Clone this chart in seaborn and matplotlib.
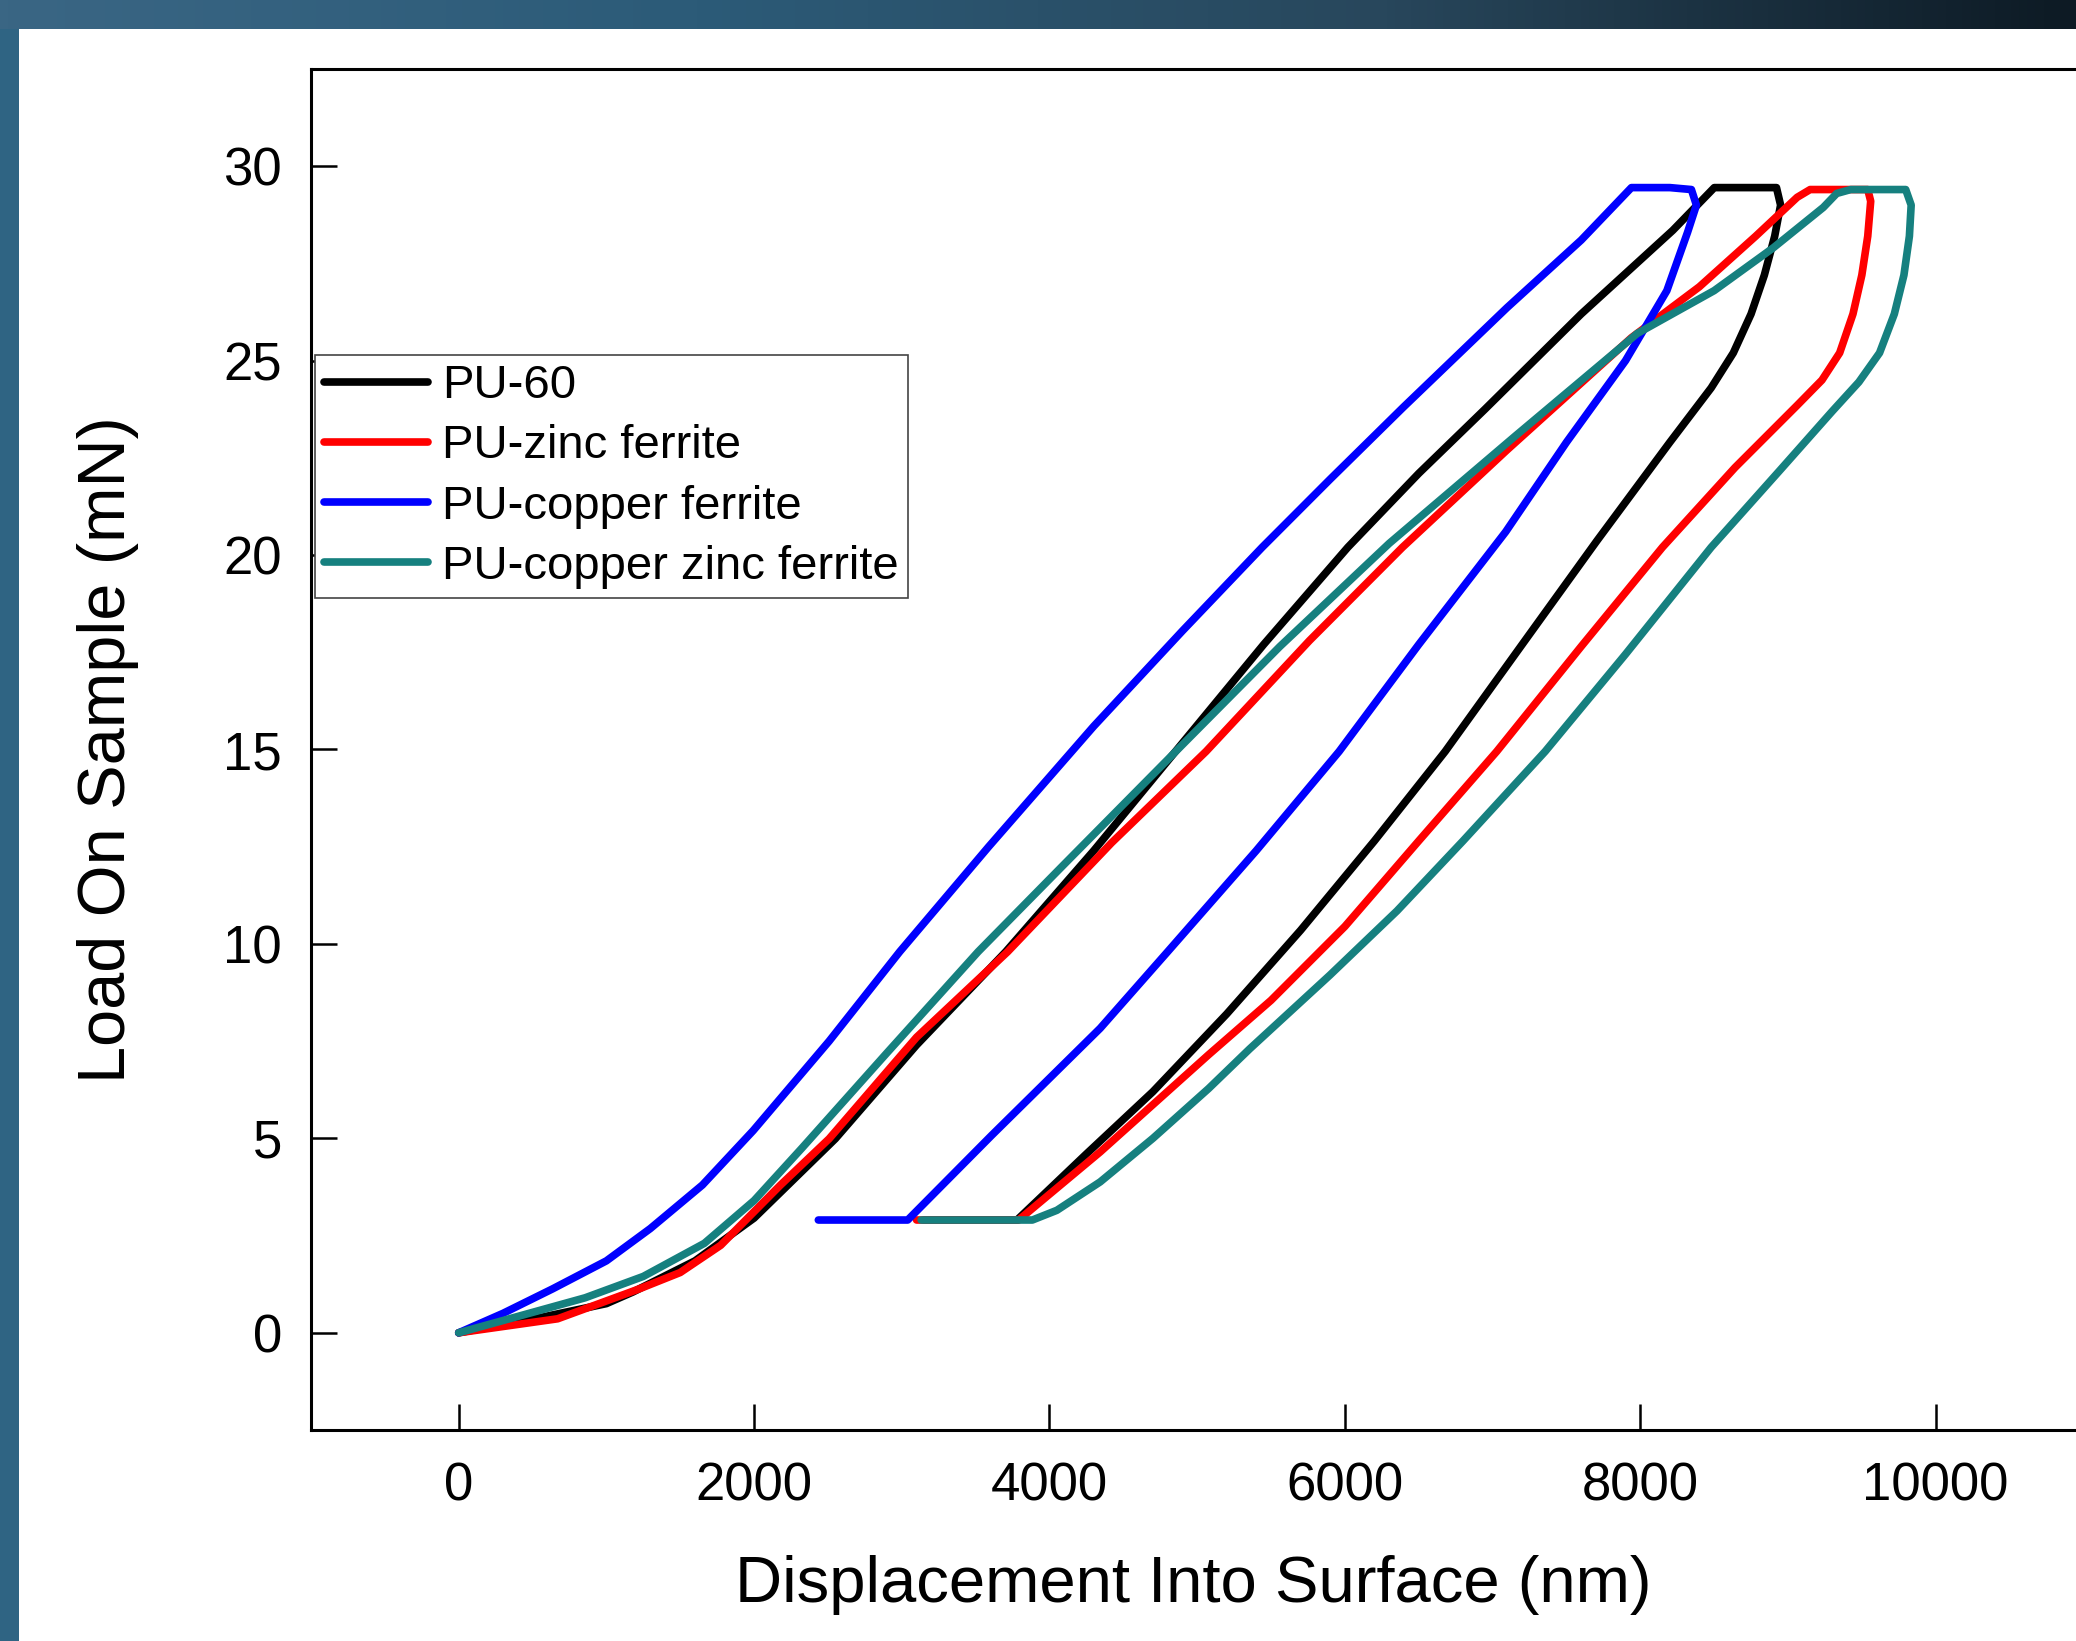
import numpy as np
import pandas as pd
import matplotlib
matplotlib.use('Agg')
import matplotlib.pyplot as plt
from matplotlib.colors import LinearSegmentedColormap
import seaborn as sns

# Load-displacement curves (loading -> hold -> unloading -> hold)
samples = ['PU-60', 'PU-zinc ferrite', 'PU-copper ferrite', 'PU-copper zinc ferrite']
colors = ['#000000', '#ff0000', '#0000ff', '#16807f']

pu60_x = [0, 500, 1000, 1180, 1600, 2000, 2550, 3100, 3704, 4300, 4853, 5450, 6020, 6500, 6948, 7600,
          8220, 8501, 8922, 8950, 8910, 8840, 8750, 8630, 8480, 8200, 7705, 7200, 6679, 6200, 5700,
          5200, 4700, 4250, 3780, 3150]
pu60_y = [0, 0.35, 0.75, 1.05, 1.85, 2.95, 4.99, 7.4, 9.8, 12.4, 14.95, 17.7, 20.2, 22.1, 23.75, 26.2,
          28.35, 29.45, 29.45, 29.0, 28.2, 27.2, 26.2, 25.2, 24.3, 22.9, 20.36, 17.7, 14.95, 12.65, 10.35,
          8.2, 6.2, 4.6, 2.9, 2.9]

zinc_x = [0, 670, 1223, 1500, 1774, 2176, 2508, 3100, 3717, 4420, 5060, 5760, 6390, 7097, 7940, 8400,
          8781, 9062, 9150, 9540, 9560, 9540, 9500, 9440, 9350, 9230, 9062, 8641, 8150, 7600, 7028,
          6500, 6000, 5500, 5077, 4343, 3791, 3100]
zinc_y = [0, 0.36, 1.13, 1.55, 2.25, 3.79, 4.99, 7.6, 9.8, 12.6, 14.95, 17.8, 20.2, 22.7, 25.59, 26.9,
          28.2, 29.2, 29.4, 29.4, 29.1, 28.2, 27.2, 26.2, 25.2, 24.5, 23.85, 22.25, 20.2, 17.65, 14.95,
          12.65, 10.45, 8.55, 7.15, 4.65, 2.9, 2.9]

copper_x = [0, 300, 636, 1000, 1297, 1650, 1994, 2508, 2986, 3588, 4300, 4900, 5440, 5900, 6395, 7097,
            7600, 7940, 8200, 8346, 8380, 8320, 8180, 7900, 7500, 7089, 6500, 5961, 5400, 4800, 4343,
            3609, 3040, 2435]
copper_y = [0, 0.5, 1.13, 1.85, 2.68, 3.8, 5.2, 7.5, 9.8, 12.5, 15.6, 18.05, 20.2, 21.95, 23.8, 26.36,
            28.1, 29.45, 29.45, 29.4, 29.0, 28.3, 26.8, 25.0, 22.9, 20.6, 17.7, 14.95, 12.4, 9.8, 7.83,
            5.08, 2.9, 2.9]

cuzn_x = [0, 400, 856, 1250, 1663, 2000, 2324, 2900, 3517, 4100, 4894, 5560, 6300, 7150, 7980, 8500,
          8900, 9239, 9330, 9425, 9797, 9834, 9822, 9785, 9720, 9620, 9480, 9300, 8950, 8480, 7900,
          7356, 6800, 6353, 5899, 5355, 5077, 4700, 4343, 4050, 3884, 3131]
cuzn_y = [0, 0.42, 0.9, 1.45, 2.3, 3.4, 4.75, 7.2, 9.8, 12.05, 15.1, 17.65, 20.3, 23.05, 25.7, 26.8,
          27.9, 28.94, 29.3, 29.4, 29.4, 29.0, 28.2, 27.2, 26.2, 25.2, 24.45, 23.7, 22.2, 20.2, 17.45,
          14.95, 12.65, 10.85, 9.2, 7.3, 6.28, 5.0, 3.88, 3.15, 2.9, 2.9]

x_ticks = [0, 2000, 4000, 6000, 8000, 10000]
y_ticks = [0, 5, 10, 15, 20, 25, 30]

frames = []
for name, xs, ys in zip(samples, [pu60_x, zinc_x, copper_x, cuzn_x], [pu60_y, zinc_y, copper_y, cuzn_y]):
    frames.append(pd.DataFrame({'Displacement': xs, 'Load': ys, 'Sample': name}))
df = pd.concat(frames, ignore_index=True)

sns.set_style('ticks')
plt.rcParams['font.family'] = ['Liberation Sans', 'DejaVu Sans']
plt.rcParams['text.color'] = 'black'
plt.rcParams['axes.labelcolor'] = 'black'

W, H = 2076, 1641
fig = plt.figure(figsize=(W / 100, H / 100), dpi=100)
fig.patch.set_facecolor('white')

# dark slide band on top and left edge
band = fig.add_axes([0, 1 - 29 / H, 1, 29 / H])
band_cmap = LinearSegmentedColormap.from_list('band', ['#3a6684', '#2c5b78', '#28475c', '#0d1a24'])
band.imshow(np.linspace(0, 1, 256)[None, :], aspect='auto', cmap=band_cmap, extent=[0, 1, 0, 1])
band.axis('off')
side = fig.add_axes([0, 0, 19 / W, 1 - 29 / H])
side.set_facecolor('#2f6483')
side.set_xticks([])
side.set_yticks([])
for s in side.spines.values():
    s.set_visible(False)

ax = fig.add_axes([311 / W, (H - 1430) / H, (W - 311) / W, (1430 - 69) / H])
sns.lineplot(data=df, x='Displacement', y='Load', hue='Sample', hue_order=samples,
             palette=dict(zip(samples, colors)), sort=False, estimator=None,
             linewidth=5.5, legend=False, ax=ax)
for line in ax.lines:
    line.set_solid_capstyle('round')
    line.set_solid_joinstyle('round')

ax.set_xlim(-1000, 10950)
ax.set_ylim(-2.5, 32.5)
ax.set_xticks(x_ticks)
ax.set_yticks(y_ticks)
ax.set_xticklabels([str(t) for t in x_ticks])
ax.set_yticklabels([str(t) for t in y_ticks])
ax.tick_params(direction='in', length=19, width=1.8, labelsize=38, colors='black')
ax.tick_params(axis='y', pad=21)
ax.tick_params(axis='x', pad=23)
for side_name in ['left', 'bottom', 'top']:
    ax.spines[side_name].set_linewidth(2.2)
    ax.spines[side_name].set_color('black')
ax.spines['right'].set_visible(False)

ax.set_xlabel('Displacement Into Surface (nm)', fontsize=47)
ax.set_ylabel('Load On Sample (mN)', fontsize=48)
ax.xaxis.label.set_va('center')
ax.yaxis.label.set_va('center')
ax.xaxis.set_label_coords(0.5, (1430 - 1585) / (1430 - 69))
ax.yaxis.set_label_coords((108 - 311) / (W - 311), 0.5)

leg = ax.legend(handles=ax.lines[:4], labels=samples, loc='upper left',
                bbox_to_anchor=(0.002, (1430 - 355) / (1430 - 69)), borderaxespad=0,
                fontsize=34, frameon=True, fancybox=False, framealpha=1,
                handlelength=2.2, handletextpad=0.3, borderpad=0.2, labelspacing=0.34)
leg.get_frame().set_edgecolor('#444444')
leg.get_frame().set_linewidth(1.2)

fig.savefig('out.png', dpi=100)
